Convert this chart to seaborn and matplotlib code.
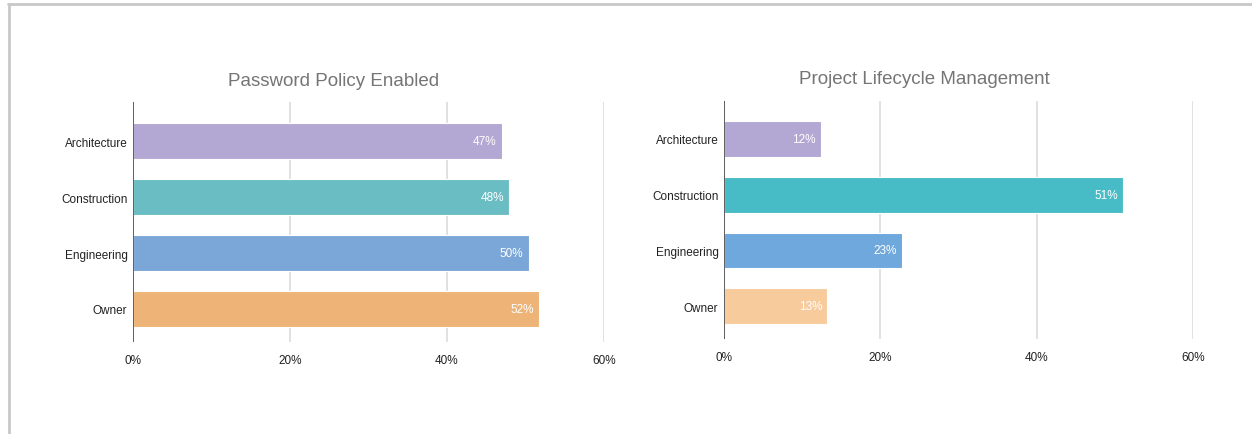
import matplotlib
matplotlib.use("Agg")
import matplotlib.pyplot as plt
from matplotlib.lines import Line2D
import seaborn as sns
import pandas as pd

# Survey results by firm type (percent of respondents)
categories = ["Architecture", "Construction", "Engineering", "Owner"]
password_policy = [47.0, 47.9, 50.4, 51.7]
lifecycle_mgmt = [12.4, 51.1, 22.8, 13.2]
x_ticks = [0, 20, 40, 60]
x_tick_labels = ["0%", "20%", "40%", "60%"]

left_colors = ["#b3a7d3", "#6bbdc4", "#7ba7d8", "#edb377"]
right_colors = ["#b3a7d3", "#48bcc6", "#6fa8dc", "#f8cb9c"]

sns.set_theme(style="white")
plt.rcParams["font.family"] = ["Liberation Sans", "DejaVu Sans"]

W, H = 1252, 435
fig = plt.figure(figsize=(W / 100, H / 100), dpi=100)


def draw_panel(rect, values, colors, title, title_xy, ylim):
    ax = fig.add_axes(rect)
    df = pd.DataFrame({"category": categories, "value": values})
    sns.barplot(data=df, y="category", x="value", hue="category",
                palette=colors, orient="h", width=0.64, legend=False,
                saturation=1, ax=ax, linewidth=0.8, edgecolor="white")
    ax.set_xlim(0, 60)
    ax.set_ylim(*ylim)
    ax.set_xticks(x_ticks)
    ax.set_xticklabels(x_tick_labels)
    for t in x_ticks[1:]:
        ax.axvline(t, color="#d9d9d9", lw=1.1, zorder=0)
    ax.axvline(0, color="#333333", lw=1.1, zorder=3)
    for s in ax.spines.values():
        s.set_visible(False)
    ax.tick_params(axis="both", length=0, labelsize=8.5, colors="#222222")
    ax.tick_params(axis="x", pad=9)
    ax.tick_params(axis="y", pad=4)
    ax.set_xlabel("")
    ax.set_ylabel("")
    fig.text(title_xy[0] / W, 1 - title_xy[1] / H, title, fontsize=13.5,
             color="#757575", ha="center", va="center")
    for i, v in enumerate(values):
        ax.text(v - 0.65, i, f"{v:.0f}%", ha="right", va="center",
                color="white", fontsize=8.5, zorder=4)
    return ax


draw_panel([0.1062, 0.2115, 0.3762, 0.5517], password_policy, left_colors,
           "Password Policy Enabled", (334, 82), (3.59, -0.70))
draw_panel([0.5783, 0.2184, 0.3746, 0.5470], lifecycle_mgmt, right_colors,
           "Project Lifecycle Management", (924, 80), (3.59, -0.68))

# Card frame along the top and left edges
fig.add_artist(Line2D([8 / W, 1.0], [1 - 5 / H, 1 - 5 / H],
                      transform=fig.transFigure, color="#c8c8c8", lw=2))
fig.add_artist(Line2D([9 / W, 9 / W], [0, 1 - 5 / H],
                      transform=fig.transFigure, color="#c8c8c8", lw=2))

fig.savefig("out.png", dpi=100, facecolor="white")
